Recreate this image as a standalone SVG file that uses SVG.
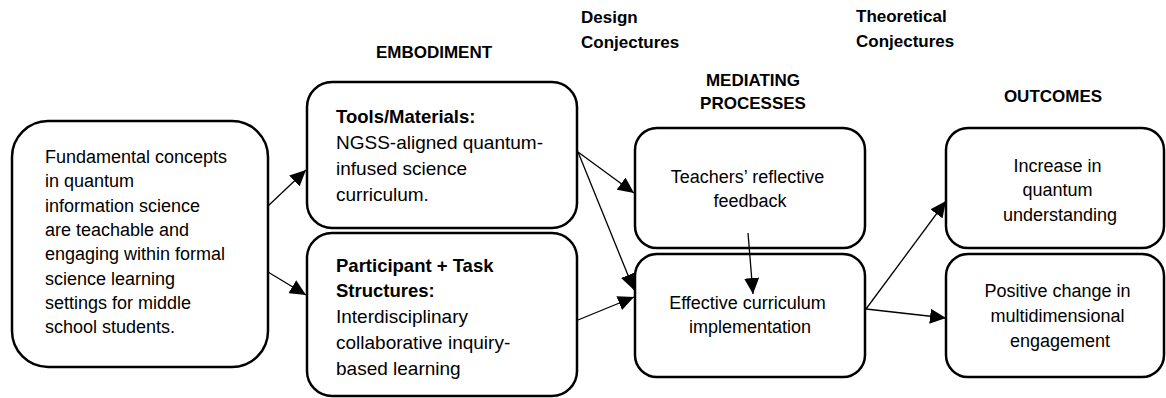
<svg xmlns="http://www.w3.org/2000/svg" width="1166" height="398" viewBox="0 0 1166 398">
  <defs>
    <marker id="arrow" markerUnits="userSpaceOnUse" markerWidth="17" markerHeight="15" refX="16" refY="7.5" orient="auto">
      <path d="M0,0 L16,7.5 L0,15 Z" fill="#000"/>
    </marker>
    <style>
      .box { fill: #fff; stroke: #000; stroke-width: 2.5; }
      .edge { stroke: #000; stroke-width: 1.3; fill: none; marker-end: url(#arrow); }
      .hdr { font-family: "Liberation Sans", Arial, sans-serif; font-weight: bold; font-size: 17px; fill: #000; }
      .txt { font-family: "Liberation Sans", Arial, sans-serif; font-size: 18px; fill: #000; }
      .txt19 { font-family: "Liberation Sans", Arial, sans-serif; font-size: 19px; fill: #000; }
      .b { font-weight: bold; font-size: 18.5px; }
      .mid { text-anchor: middle; }
    </style>
  </defs>

  <rect width="1166" height="398" fill="#fff"/>

  <!-- column headings -->
  <g id="headings">
    <text class="hdr mid" x="434" y="58">EMBODIMENT</text>
    <text class="hdr" x="581" y="23">Design</text>
    <text class="hdr" x="581" y="48">Conjectures</text>
    <text class="hdr mid" x="753" y="86">MEDIATING</text>
    <text class="hdr mid" x="753" y="109">PROCESSES</text>
    <text class="hdr" x="856" y="22">Theoretical</text>
    <text class="hdr" x="856" y="47">Conjectures</text>
    <text class="hdr mid" x="1053" y="102">OUTCOMES</text>
  </g>

  <!-- conjecture -->
  <g id="node-conjecture">
    <rect class="box" x="12" y="121" width="256" height="246" rx="36" ry="36"/>
    <text class="txt" x="45">
      <tspan x="45" y="163">Fundamental concepts</tspan>
      <tspan x="45" y="187.3">in quantum</tspan>
      <tspan x="45" y="211.6">information science</tspan>
      <tspan x="45" y="235.9">are teachable and</tspan>
      <tspan x="45" y="260.2">engaging within formal</tspan>
      <tspan x="45" y="284.5">science learning</tspan>
      <tspan x="45" y="308.8">settings for middle</tspan>
      <tspan x="45" y="333.1">school students.</tspan>
    </text>
  </g>

  <!-- embodiment: tools -->
  <g id="node-tools">
    <rect class="box" x="307" y="82" width="270" height="146" rx="25" ry="25"/>
    <text class="txt19">
      <tspan class="b" x="336" y="123">Tools/Materials:</tspan>
      <tspan x="336" y="149">NGSS-aligned quantum-</tspan>
      <tspan x="336" y="175">infused science</tspan>
      <tspan x="336" y="200.5">curriculum.</tspan>
    </text>
  </g>

  <!-- embodiment: participant + task structures -->
  <g id="node-structures">
    <rect class="box" x="307" y="233" width="270" height="163" rx="25" ry="25"/>
    <text class="txt19">
      <tspan class="b" x="336" y="271.5">Participant + Task</tspan>
      <tspan class="b" x="336" y="297">Structures:</tspan>
      <tspan x="336" y="323">Interdisciplinary</tspan>
      <tspan x="336" y="349">collaborative inquiry-</tspan>
      <tspan x="336" y="375">based learning</tspan>
    </text>
  </g>

  <!-- mediating processes -->
  <g id="node-feedback">
    <rect class="box" x="635" y="128" width="230" height="120" rx="22" ry="22"/>
    <text class="txt mid">
      <tspan x="750" y="182.5">Teachers’ reflective</tspan>
      <tspan x="750" y="206.5">feedback</tspan>
    </text>
  </g>

  <g id="node-implementation">
    <rect class="box" x="635" y="254" width="230" height="123" rx="22" ry="22"/>
    <text class="txt mid">
      <tspan x="750" y="308.5">Effective curriculum</tspan>
      <tspan x="750" y="332.5">implementation</tspan>
    </text>
  </g>

  <!-- outcomes -->
  <g id="node-understanding">
    <rect class="box" x="946" y="128" width="218" height="120" rx="22" ry="22"/>
    <text class="txt mid">
      <tspan x="1060" y="171.5">Increase in</tspan>
      <tspan x="1060" y="196">quantum</tspan>
      <tspan x="1060" y="220.5">understanding</tspan>
    </text>
  </g>

  <g id="node-engagement">
    <rect class="box" x="946" y="254" width="218" height="123" rx="22" ry="22"/>
    <text class="txt mid">
      <tspan x="1060" y="296.5">Positive change in</tspan>
      <tspan x="1060" y="321.5">multidimensional</tspan>
      <tspan x="1060" y="346.5">engagement</tspan>
    </text>
  </g>

  <!-- connectors, drawn over the boxes -->
  <g id="connectors">
    <line class="edge" x1="268" y1="206" x2="306" y2="170"/>
    <line class="edge" x1="268" y1="272" x2="306" y2="295"/>
    <line class="edge" x1="578" y1="152" x2="634" y2="193"/>
    <line class="edge" x1="578" y1="152" x2="634" y2="290"/>
    <line class="edge" x1="578" y1="320" x2="634" y2="297"/>
    <line class="edge" x1="748" y1="233" x2="753" y2="294"/>
    <line class="edge" x1="866" y1="309" x2="946" y2="201"/>
    <line class="edge" x1="866" y1="309" x2="946" y2="318"/>
  </g>
</svg>
